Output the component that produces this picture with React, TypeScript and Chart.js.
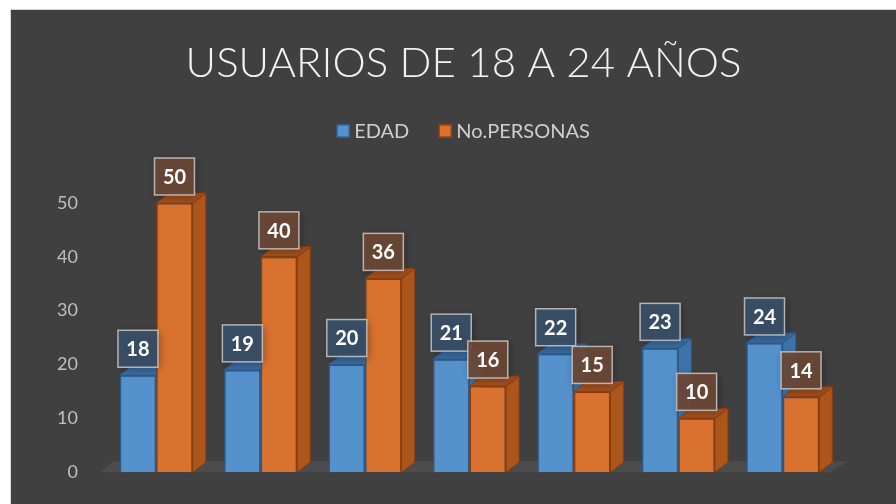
import React, { useEffect, useRef } from "react";
import { Chart, registerables } from "chart.js";

Chart.register(...registerables);

const chartTitle = "USUARIOS DE 18 A 24 AÑOS";
const categories = ["1", "2", "3", "4", "5", "6", "7"];
const edadValues = [18, 19, 20, 21, 22, 23, 24];
const personasValues = [50, 40, 36, 16, 15, 10, 14];
const seriesLabels = ["EDAD", "No.PERSONAS"];
const yTicks = [0, 10, 20, 30, 40, 50];

const W = 885;
const H = 499;
const DX = 13;
const DY = 10;

const palette = [
  { front: "#5591cc", border: "#2c5c8c", side: "#3f74aa", top: "#3a6ba0", label: "rgba(58,80,104,0.92)", legendBorder: "#2e6aa6" },
  { front: "#d9722f", border: "#8a3e10", side: "#ad561c", top: "#a3501c", label: "rgba(108,72,54,0.92)", legendBorder: "#9a4512" },
];

const FONT = "Lato, 'Open Sans', 'DejaVu Sans', sans-serif";

const threeD = {
  id: "threeD",
  beforeDatasetsDraw(chart: any) {
    const ctx = chart.ctx;
    const ca = chart.chartArea;
    ctx.save();
    ctx.fillStyle = "#4c4c4c";
    ctx.beginPath();
    ctx.moveTo(ca.left - 4, ca.bottom);
    ctx.lineTo(ca.right - 5, ca.bottom);
    ctx.lineTo(ca.right - 5 + DX + 5, ca.bottom - DY - 1);
    ctx.lineTo(ca.left - 4 + DX, ca.bottom - DY - 1);
    ctx.closePath();
    ctx.fill();
    ctx.restore();
    const n = chart.data.labels.length;
    for (let i = 0; i < n; i++) {
      chart.data.datasets.forEach((ds: any, di: number) => {
        const meta = chart.getDatasetMeta(di);
        const el = meta.data[i];
        if (!el) return;
        const p = el.getProps(["x", "y", "base", "width"], true);
        const l = p.x - p.width / 2;
        const r = p.x + p.width / 2;
        const c = palette[di];
        ctx.save();
        ctx.lineWidth = 1;
        ctx.strokeStyle = c.border;
        ctx.fillStyle = c.side;
        ctx.beginPath();
        ctx.moveTo(r, p.base);
        ctx.lineTo(r + DX, p.base - DY);
        ctx.lineTo(r + DX, p.y - DY);
        ctx.lineTo(r, p.y);
        ctx.closePath();
        ctx.fill();
        ctx.stroke();
        ctx.fillStyle = c.top;
        ctx.beginPath();
        ctx.moveTo(l, p.y);
        ctx.lineTo(l + DX, p.y - DY);
        ctx.lineTo(r + DX, p.y - DY);
        ctx.lineTo(r, p.y);
        ctx.closePath();
        ctx.fill();
        ctx.stroke();
        ctx.restore();
      });
    }
  },
  afterDatasetsDraw(chart: any) {
    const ctx = chart.ctx;
    chart.data.datasets.forEach((ds: any, di: number) => {
      const meta = chart.getDatasetMeta(di);
      meta.data.forEach((el: any, i: number) => {
        const p = el.getProps(["x", "y"], true);
        const bw = 40;
        const bh = 37;
        const bx = p.x - bw / 2;
        const by = p.y - 8 - bh;
        ctx.save();
        ctx.shadowColor = "rgba(0,0,0,0.35)";
        ctx.shadowBlur = 8;
        ctx.shadowOffsetX = 2;
        ctx.shadowOffsetY = 2;
        ctx.fillStyle = palette[di].label;
        ctx.fillRect(bx, by, bw, bh);
        ctx.shadowColor = "transparent";
        ctx.strokeStyle = "rgba(200,200,200,0.85)";
        ctx.lineWidth = 1.5;
        ctx.strokeRect(bx, by, bw, bh);
        ctx.fillStyle = "#ffffff";
        ctx.font = `bold 20px ${FONT}`;
        ctx.textAlign = "center";
        ctx.textBaseline = "middle";
        ctx.fillText(String(ds.data[i]), p.x, by + bh / 2 + 1);
        ctx.restore();
      });
    });
  },
  afterDraw(chart: any) {
    const ctx = chart.ctx;
    const cx = chart.width / 2 + 10;
    ctx.save();
    ctx.fillStyle = "#f2f2f2";
    ctx.font = `300 42px ${FONT}`;
    ctx.textAlign = "center";
    ctx.textBaseline = "middle";
    ctx.fillText(chartTitle, cx, 53);
    ctx.font = `20px ${FONT}`;
    ctx.textAlign = "left";
    const box = 12;
    const gap = 5;
    const spacing = 30;
    const items = chart.data.datasets.map((d: any) => d.label);
    const widths = items.map((t: string) => box + gap + ctx.measureText(t).width);
    const total = widths.reduce((a: number, b: number) => a + b, 0) + spacing * (items.length - 1);
    let x = cx - total / 2;
    const y = 121;
    items.forEach((t: string, i: number) => {
      ctx.fillStyle = palette[i].front;
      ctx.fillRect(x, y - box / 2, box, box);
      ctx.strokeStyle = palette[i].legendBorder;
      ctx.lineWidth = 1.5;
      ctx.strokeRect(x, y - box / 2, box, box);
      ctx.fillStyle = "#cfcfcf";
      ctx.fillText(t, x + box + gap, y + 1);
      x += widths[i] + spacing;
    });
    ctx.restore();
  },
};

const bgPlugin = {
  id: "bg",
  beforeDraw(chart: any) {
    const ctx = chart.ctx;
    ctx.save();
    ctx.fillStyle = "#404040";
    ctx.fillRect(0, 0, chart.width, chart.height);
    ctx.restore();
  },
};

export default function App() {
  const ref = useRef<HTMLCanvasElement | null>(null);
  useEffect(() => {
    if (!ref.current) return;
    const chart = new Chart(ref.current, {
      type: "bar",
      data: {
        labels: categories,
        datasets: [
          {
            label: seriesLabels[0],
            data: edadValues,
            backgroundColor: palette[0].front,
            borderColor: palette[0].border,
            borderWidth: 1.5,
            barPercentage: 1,
            categoryPercentage: 0.7,
          },
          {
            label: seriesLabels[1],
            data: personasValues,
            backgroundColor: palette[1].front,
            borderColor: palette[1].border,
            borderWidth: 1.5,
            barPercentage: 1,
            categoryPercentage: 0.7,
          },
        ],
      },
      options: {
        responsive: false,
        animation: false,
        devicePixelRatio: 1,
        layout: { padding: { top: 193, right: 61, bottom: 0, left: 0 } },
        plugins: {
          legend: { display: false },
          title: { display: false },
          tooltip: { enabled: false },
        },
        scales: {
          x: { display: false },
          y: {
            min: 0,
            max: 50,
            afterFit: (s: any) => {
              s.width = 93;
            },
            afterBuildTicks: (s: any) => {
              s.ticks = yTicks.map((v) => ({ value: v }));
            },
            grid: { display: false, drawTicks: false },
            border: { display: false },
            ticks: {
              padding: 26,
              color: "#bfbfbf",
              font: { family: FONT, size: 18 },
            },
          },
        },
      },
      plugins: [bgPlugin, threeD],
    });
    return () => chart.destroy();
  }, []);
  return (
    <div style={{ position: "absolute", left: 0, top: 0, width: 896, height: 504, background: "#ffffff", overflow: "hidden" }}>
      <div style={{ position: "absolute", left: 10, top: 9, width: W + 2, height: H + 2, background: "#d4d4d4" }} />
      <canvas ref={ref} width={W} height={H} style={{ position: "absolute", left: 11, top: 10, width: W, height: H }} />
    </div>
  );
}
